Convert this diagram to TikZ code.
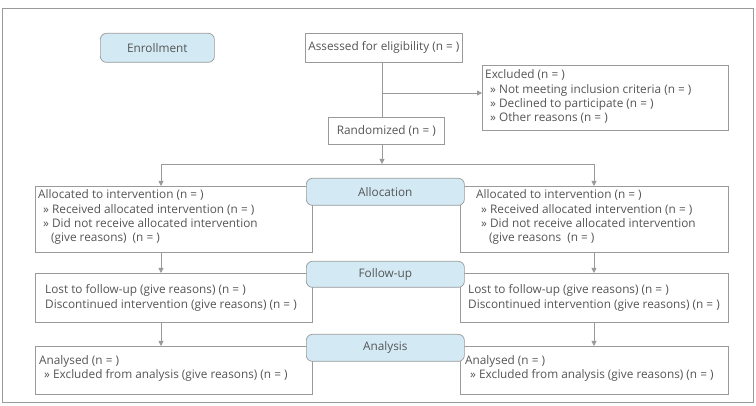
\documentclass[tikz,border=0pt]{standalone}
\usepackage{fontspec}
\setmainfont{Open Sans}
\usetikzlibrary{arrows.meta}
\definecolor{ln}{HTML}{9A9A9A}
\definecolor{tx}{HTML}{555555}
\definecolor{lb}{HTML}{D3EAF5}
\begin{document}
\begin{tikzpicture}[x=1pt,y=-1pt,
  every node/.style={text=tx,font=\fontsize{11.8}{14.3}\selectfont},
  box/.style={draw=ln,line width=0.7pt,fill=white,anchor=north west,inner sep=0pt,align=left},
  lab/.style={draw=ln,line width=0.7pt,fill=lb,rounded corners=6pt,anchor=north west,inner sep=0pt,align=center},
  con/.style={draw=ln,line width=0.8pt},
  arr/.style={con,-{Triangle[width=5pt,length=5pt]}}]
\useasboundingbox (0,0) rectangle (756,406);
\draw[ln,line width=0.8pt] (2,8) rectangle (753,402);
% boxes
\node[lab,minimum width=114pt,minimum height=29pt] (enr) at (100,33) {};
\node at (enr.center) {Enrollment};
\node[box,minimum width=157pt,minimum height=29pt] (ass) at (305,33) {};
\node at (ass.center) {Assessed for eligibility (n = )};
\node[box,minimum width=246pt,minimum height=65pt] (exc) at (482,65) {};
\node[anchor=west,align=left,inner sep=0pt] at ([xshift=3pt,yshift=1pt]exc.west) {Excluded (n = )\\\hspace{5pt}» Not meeting inclusion criteria (n = )\\\hspace{5pt}» Declined to participate (n = )\\\hspace{5pt}» Other reasons (n = )};
\node[box,minimum width=116pt,minimum height=27pt] (ran) at (328,117) {};
\node at (ran.center) {Randomized (n = )};
\coordinate (top) at (382,62);
\coordinate (br) at (382,93);
\coordinate (rt) at (382,117);
\coordinate (rb) at (382,144);
\coordinate (hl) at (161,164);
\coordinate (hr) at (594,164);
\coordinate (hc) at (382,164);
% allocation
\node[box,minimum width=277pt,minimum height=66pt] (al) at (35,186) {};
\node[anchor=west,align=left,inner sep=0pt] at ([xshift=3pt,yshift=2pt]al.west) {Allocated to intervention (n = )\\\hspace{5pt}» Received allocated intervention (n = )\\\hspace{5pt}» Did not receive allocated intervention\\\hspace{13pt}(give reasons)\ \ (n = )};
\node[box,minimum width=268pt,minimum height=66pt] (ar) at (460,186) {};
\node[anchor=west,align=left,inner sep=0pt] at ([xshift=16pt,yshift=2pt]ar.west) {Allocated to intervention (n = )\\\hspace{5pt}» Received allocated intervention (n = )\\\hspace{5pt}» Did not receive allocated intervention\\\hspace{13pt}(give reasons\ \ (n = )};
\node[lab,minimum width=158pt,minimum height=27pt] (all) at (306,178) {};
\node at (all.center) {Allocation};
% follow-up
\node[box,minimum width=277pt,minimum height=49pt] (fl) at (35,273) {};
\node[anchor=west,align=left,inner sep=0pt] at ([xshift=10pt]fl.west) {Lost to follow-up (give reasons) (n = )\\Discontinued intervention (give reasons) (n = )};
\node[box,minimum width=268pt,minimum height=49pt] (fr) at (460,273) {};
\node[anchor=west,align=left,inner sep=0pt] at ([xshift=8pt]fr.west) {Lost to follow-up (give reasons) (n = )\\Discontinued intervention (give reasons) (n = )};
\node[lab,minimum width=158pt,minimum height=26pt] (fol) at (306,261) {};
\node at (fol.center) {Follow-up};
% analysis
\node[box,minimum width=277pt,minimum height=48pt] (nl) at (35,346) {};
\node[anchor=west,align=left,inner sep=0pt] at ([xshift=4pt,yshift=2pt]nl.west) {Analysed (n = )\\\hspace{5pt}» Excluded from analysis (give reasons) (n = )};
\node[box,minimum width=268pt,minimum height=48pt] (nr) at (460,346) {};
\node[anchor=west,align=left,inner sep=0pt] at ([xshift=5pt,yshift=2pt]nr.west) {Analysed (n = )\\\hspace{5pt}» Excluded from analysis (give reasons) (n = )};
\node[lab,minimum width=158pt,minimum height=27pt] (ana) at (306,334) {};
\node at (ana.center) {Analysis};
% connectors
\draw[con] (top) -- (rt);
\draw[arr] (br) -- (br -| exc.west);
\draw[arr] (rb) -- (hc);
\draw[con] (hl) -- (hr);
\draw[arr] (hl) -- (hl |- al.north);
\draw[arr] (hr) -- (hr |- ar.north);
\draw[arr] (hl |- al.south) -- (hl |- fl.north);
\draw[arr] (hr |- ar.south) -- (hr |- fr.north);
\draw[arr] (hl |- fl.south) -- (hl |- nl.north);
\draw[arr] (hr |- fr.south) -- (hr |- nr.north);
\end{tikzpicture}
\end{document}
